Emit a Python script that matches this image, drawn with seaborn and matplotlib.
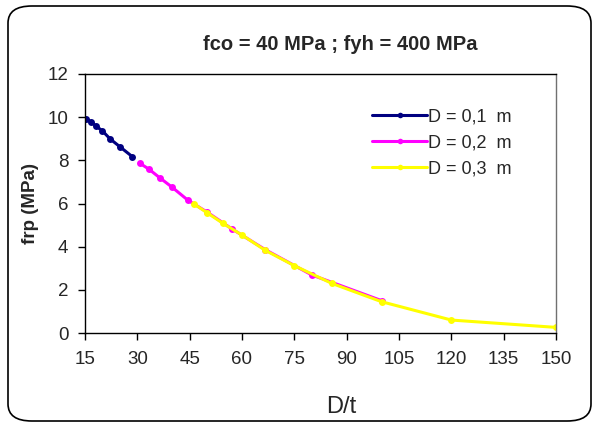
import matplotlib
matplotlib.use("Agg")
import matplotlib.pyplot as plt
from matplotlib.patches import FancyBboxPatch
import seaborn as sns
import pandas as pd

# Data
dt_01 = [15.38, 16.67, 18.18, 20.0, 22.22, 25.0, 28.57]
frp_01 = [9.92, 9.79, 9.59, 9.36, 8.99, 8.63, 8.17]

dt_02 = [30.77, 33.33, 36.36, 40.0, 44.44, 50.0, 57.14, 66.67, 80.0, 100.0]
frp_02 = [7.86, 7.59, 7.20, 6.75, 6.16, 5.60, 4.82, 3.86, 2.69, 1.50]

dt_03 = [46.15, 50.0, 54.55, 60.0, 66.67, 75.0, 85.71, 100.0, 120.0, 150.0]
frp_03 = [5.99, 5.57, 5.08, 4.54, 3.83, 3.12, 2.30, 1.45, 0.60, 0.26]

labels = ["D = 0,1  m", "D = 0,2  m", "D = 0,3  m"]
colors = ["#000080", "#FF00FF", "#FFFF00"]
x_ticks = [15, 30, 45, 60, 75, 90, 105, 120, 135, 150]
y_ticks = [0, 2, 4, 6, 8, 10, 12]

rows = []
for lab, xs, ys in zip(labels, [dt_01, dt_02, dt_03], [frp_01, frp_02, frp_03]):
    for x, y in zip(xs, ys):
        rows.append({"D/t": x, "frp": y, "serie": lab})
df = pd.DataFrame(rows)

sns.set_style("white")
plt.rcParams["font.family"] = ["Liberation Sans", "DejaVu Sans"]

fig = plt.figure(figsize=(5.97, 4.26), dpi=100)
ax = fig.add_axes([85 / 597, 1 - 333 / 426, 471 / 597, 259 / 426])

sns.lineplot(data=df, x="D/t", y="frp", hue="serie", hue_order=labels,
             palette=colors, marker="o", markersize=5, markeredgewidth=0,
             linewidth=2.2, sort=False, ax=ax)

ax.set_xlim(15, 150)
ax.set_ylim(0, 12)
ax.set_xticks(x_ticks)
ax.set_yticks(y_ticks)
ax.tick_params(axis="both", which="both", direction="out", length=5, width=1,
               color="black", labelsize=13.5, bottom=True, left=True)
ax.tick_params(axis="x", pad=8)
ax.tick_params(axis="y", pad=7)
for s in ax.spines.values():
    s.set_color("black")
    s.set_linewidth(1)
ax.spines["right"].set_color("#707070")

ax.set_xlabel("D/t", fontsize=17)
ax.xaxis.set_label_coords((341 - 85) / 471, -0.245)
ax.set_ylabel("frp (MPa)", fontsize=13.5, fontweight="bold", labelpad=6)
fig.text(340 / 597, 1 - 45 / 426, "fco = 40 MPa ; fyh = 400 MPa", ha="center",
         va="center", fontsize=14.5, fontweight="bold")

leg = ax.legend(loc="upper left", bbox_to_anchor=(0.595, 0.895), frameon=False,
                fontsize=13, handlelength=3.0, handletextpad=0.1,
                labelspacing=0.5, borderaxespad=0)
for h in leg.legend_handles:
    h.set_markersize(4)

border = FancyBboxPatch((8 / 597, 5 / 426), 583 / 597, 415 / 426,
                        boxstyle="round,pad=0,rounding_size=0.04",
                        transform=fig.transFigure, facecolor="none",
                        edgecolor="black", linewidth=1.2, zorder=10)
fig.patches.append(border)

fig.savefig("out.png", dpi=100)
